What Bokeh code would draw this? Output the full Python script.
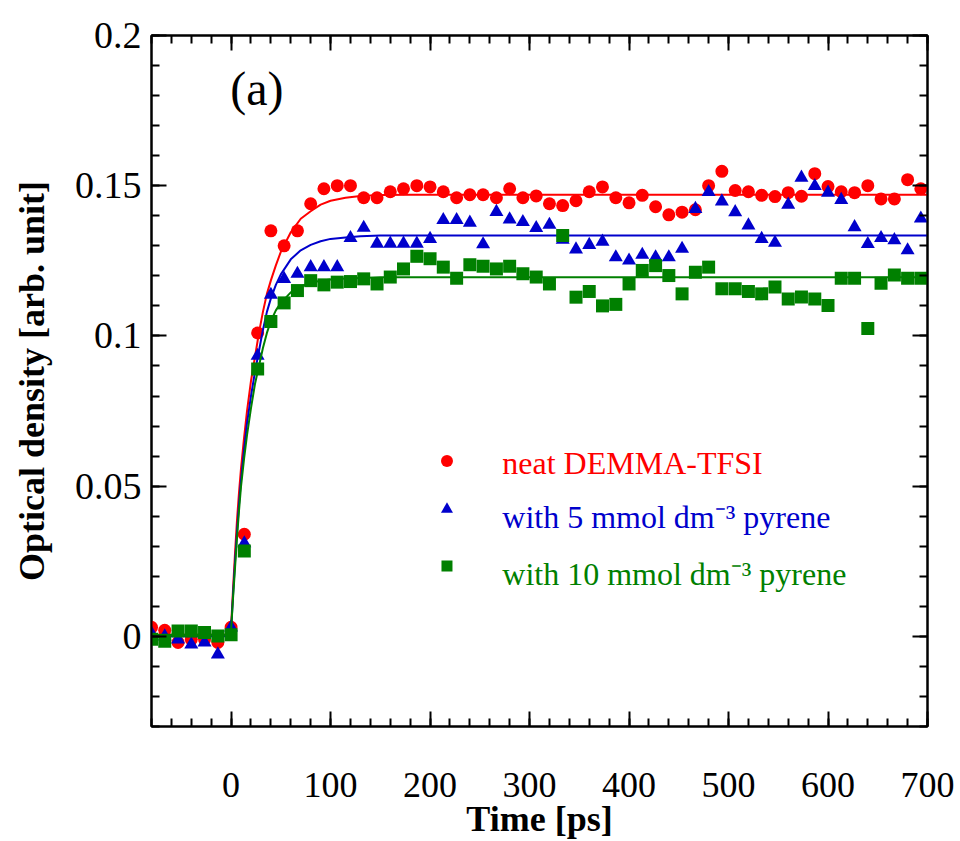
import math
from bokeh.plotting import figure
from bokeh.models import (Range1d, LinearAxis, SingleIntervalTicker,
                          CustomJSTickFormatter, Label)
from bokeh.embed import file_html
from bokeh.resources import INLINE

# ---------------- data ----------------
time_ps = [-80, -66.7, -53.3, -40, -26.7, -13.3, 0, 13.3, 26.7, 40, 53.3, 66.7,
           80, 93.3, 106.7, 120, 133.3, 146.7, 160, 173.3, 186.7, 200, 213.3,
           226.7, 240, 253.3, 266.7, 280, 293.3, 306.7, 320, 333.3, 346.7, 360,
           373.3, 386.7, 400, 413.3, 426.7, 440, 453.3, 466.7, 480, 493.3,
           506.7, 520, 533.3, 546.7, 560, 573.3, 586.7, 600, 613.3, 626.7, 640,
           653.3, 666.7, 680, 693.3]

od_neat = [0.003, 0.002, -0.002, -0.001, -0.001, -0.002, 0.003, 0.034, 0.101,
           0.135, 0.130, 0.135, 0.144, 0.149, 0.150, 0.150, 0.146, 0.146, 0.148,
           0.149, 0.150, 0.1496, 0.148, 0.146, 0.147, 0.147, 0.146, 0.149, 0.146,
           0.1466, 0.144, 0.1434, 0.145, 0.148, 0.1496, 0.146, 0.1443, 0.1468,
           0.143, 0.1403, 0.1412, 0.142, 0.150, 0.1548, 0.1484, 0.148, 0.1468,
           0.1464, 0.1477, 0.1465, 0.154, 0.1497, 0.148, 0.1477, 0.150, 0.1456,
           0.1456, 0.152, 0.149]

od_5mM = [0.001, 0.000, -0.001, -0.0027, -0.002, -0.006, 0.003, 0.031, 0.0934,
          0.1137, 0.119, 0.1207, 0.1229, 0.1229, 0.1229, 0.1326, 0.136, 0.1307,
          0.1307, 0.1307, 0.1307, 0.1323, 0.1386, 0.1386, 0.1377, 0.1305, 0.1413,
          0.1388, 0.1379, 0.1359, 0.137, 0.132, 0.1288, 0.1303, 0.1314, 0.1262,
          0.1251, 0.127, 0.1262, 0.1262, 0.129, 0.1423, 0.1479, 0.1448, 0.1412,
          0.1368, 0.1323, 0.131, 0.1437, 0.1527, 0.1499, 0.1477, 0.1453, 0.1362,
          0.1306, 0.1326, 0.1319, 0.1285, 0.1391]

od_10mM = [-0.001, -0.0016, 0.0018, 0.0018, 0.0013, 0.0001, 0.0005, 0.0284,
           0.089, 0.1048, 0.111, 0.1151, 0.1184, 0.117, 0.1179, 0.1181, 0.119,
           0.1173, 0.1196, 0.1223, 0.1265, 0.1257, 0.1229, 0.1192, 0.1237,
           0.1232, 0.1223, 0.1232, 0.1207, 0.1196, 0.1173, 0.1334, 0.1129,
           0.1148, 0.110, 0.1105, 0.1173, 0.1218, 0.1234, 0.1201, 0.114, 0.1212,
           0.1229, 0.1157, 0.1157, 0.1148, 0.114, 0.1163, 0.1123, 0.113, 0.1123,
           0.1101, 0.1192, 0.1192, 0.1025, 0.1175, 0.1203, 0.1192, 0.1192]

# fitted curves
fit_time = [-80, -1, 0, 2, 4, 6, 8, 10, 13, 16, 20, 24, 28, 32, 36, 40, 45, 50,
            60, 70, 80, 90, 100, 115, 130, 150, 180, 220, 700]
fit_neat = [0.0005, 0.0005, 0.003, 0.016, 0.028, 0.039, 0.048, 0.056, 0.066,
            0.075, 0.085, 0.093, 0.101, 0.108, 0.114, 0.1185, 0.1235, 0.128,
            0.1345, 0.139, 0.1415, 0.1437, 0.145, 0.146, 0.1466, 0.1469, 0.147,
            0.147, 0.147]
fit_5mM = [0.0, 0.0, 0.002, 0.014, 0.025, 0.035, 0.044, 0.052, 0.062, 0.071,
           0.080, 0.088, 0.095, 0.102, 0.108, 0.1125, 0.117, 0.1205, 0.1255,
           0.1285, 0.1303, 0.1315, 0.1323, 0.1328, 0.1332, 0.1334, 0.1334,
           0.1334, 0.1334]
fit_10mM = [0.0005, 0.0005, 0.002, 0.013, 0.023, 0.033, 0.042, 0.050, 0.059,
            0.067, 0.076, 0.084, 0.090, 0.096, 0.101, 0.105, 0.1085, 0.111,
            0.1145, 0.1165, 0.1177, 0.1184, 0.1188, 0.1191, 0.1193, 0.1195,
            0.1195, 0.1195, 0.1195]

series_labels = ["neat DEMMA-TFSI", "with 5 mmol dm\u207b\u00b3 pyrene",
                 "with 10 mmol dm\u207b\u00b3 pyrene"]
x_title = "Time [ps]"
y_title = "Optical density [arb. unit]"
panel_tag = "(a)"

# ---------------- styling ----------------
RED, BLUE, GREEN = "#ff0000", "#0000cc", "#008000"
FONT = "Liberation Serif"

W, H = 960, 841
p = figure(width=W, height=H, output_backend="svg", toolbar_location=None,
           x_range=Range1d(-80, 700), y_range=Range1d(-0.03, 0.2),
           x_axis_type=None, y_axis_type=None,
           min_border_left=151, min_border_right=33, min_border_top=35,
           min_border_bottom=114)
p.grid.visible = False
p.outline_line_color = "black"
p.outline_line_width = 2
p.background_fill_color = "white"
p.border_fill_color = "white"

yfmt = CustomJSTickFormatter(code="""
var s = tick.toFixed(2);
s = s.replace(/0+$/, '').replace(/\\.$/, '');
if (s == '-0') s = '0';
return s;
""")


def make_axis(kind, side, labels):
    if kind == "x":
        tk = SingleIntervalTicker(interval=100, num_minor_ticks=5)
    else:
        tk = SingleIntervalTicker(interval=0.05, num_minor_ticks=5)
    if labels:
        ax = LinearAxis(ticker=tk) if kind == "x" else LinearAxis(ticker=tk, formatter=yfmt)
    else:
        ax = LinearAxis(ticker=tk, formatter=CustomJSTickFormatter(code="return '';"))
    ax.axis_line_color = "black"
    ax.axis_line_width = 2
    ax.major_tick_in = 15
    ax.major_tick_out = 0
    ax.minor_tick_in = 8
    ax.minor_tick_out = 0
    ax.major_tick_line_width = 2
    ax.minor_tick_line_width = 2
    ax.major_tick_line_color = "black"
    ax.minor_tick_line_color = "black"
    if labels:
        ax.major_label_text_font = FONT
        ax.major_label_text_font_size = "36px" if kind == "x" else "38px"
        ax.major_label_text_color = "black"
        ax.major_label_standoff = 46 if kind == "x" else 10
        ax.axis_label = x_title if kind == "x" else y_title
        ax.axis_label_text_font = FONT
        ax.axis_label_text_font_style = "bold"
        ax.axis_label_text_font_size = "36px"
        ax.axis_label_text_color = "black"
        ax.axis_label_standoff = -1 if kind == "x" else 20
    else:
        ax.major_label_standoff = 0
    p.add_layout(ax, side)


make_axis("x", "below", True)
make_axis("x", "above", False)
make_axis("y", "left", True)
make_axis("y", "right", False)

# ---------------- series ----------------
p.line(fit_time, fit_neat, line_color=RED, line_width=2)
p.scatter(time_ps, od_neat, marker="circle", size=13, fill_color=RED,
          line_color=None)
p.line(fit_time, fit_5mM, line_color=BLUE, line_width=2)
p.scatter(time_ps, od_5mM, marker="triangle", size=14, fill_color=BLUE,
          line_color=None)
p.line(fit_time, fit_10mM, line_color=GREEN, line_width=2)
p.scatter(time_ps, od_10mM, marker="square", size=13, fill_color=GREEN,
          line_color=None)

# ---------------- legend (manual) ----------------
leg_marker_x = 217
leg_text_x = 272.6
leg_rows_marker_y = [0.0584, 0.0423, 0.0234]
leg_rows_text_y = [0.0577, 0.0396, 0.0206]
leg_markers = ["circle", "triangle", "square"]
leg_sizes = [12, 12, 11]
leg_colors = [RED, BLUE, GREEN]
for i in range(3):
    p.scatter([leg_marker_x], [leg_rows_marker_y[i]], marker=leg_markers[i],
              size=leg_sizes[i], fill_color=leg_colors[i], line_color=None)
    p.add_layout(Label(x=leg_text_x, y=leg_rows_text_y[i], text=series_labels[i],
                       text_font=FONT, text_font_size="32px",
                       text_color=leg_colors[i], text_align="left",
                       text_baseline="alphabetic"))

p.add_layout(Label(x=26, y=0.1822, text=panel_tag, text_font=FONT,
                   text_font_size="48px", text_color="black",
                   text_align="center", text_baseline="middle"))

open("out.html", "w").write(file_html(p, INLINE))
